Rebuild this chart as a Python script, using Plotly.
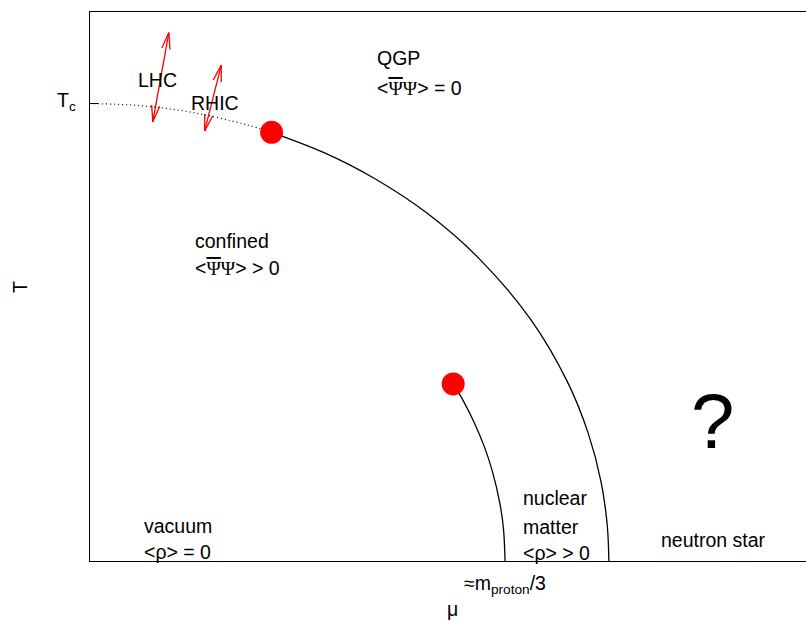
import math
import plotly.graph_objects as go

# ---- phase-boundary data (mu, T), T in units of Tc ----
crossover_mu = [0.00, 0.10, 0.20, 0.30, 0.35]
crossover_T = [1.000, 0.995, 0.980, 0.954, 0.937]

outer_mu = [0.350, 0.450, 0.550, 0.650, 0.750, 0.850, 0.920, 0.960, 0.985, 0.997, 1.000]
outer_T = [0.937, 0.893, 0.835, 0.760, 0.661, 0.527, 0.392, 0.280, 0.173, 0.077, 0.000]

inner_mu = [0.700, 0.720, 0.740, 0.760, 0.775, 0.790, 0.797, 0.800]
inner_T = [0.387, 0.349, 0.304, 0.250, 0.198, 0.126, 0.069, 0.000]

critical_mu = [0.35, 0.70]
critical_T = [0.937, 0.387]

# collider trajectories: (mu_start, T_start, mu_end, T_end)
colliders = {
    "LHC": (0.121, 0.960, 0.152, 1.155),
    "RHIC": (0.221, 0.940, 0.253, 1.084),
}

X_RANGE = [0.0, 1.38]
Y_RANGE = [0.0, 1.2]
W, H = 806, 622
M_L, M_R, M_T, M_B = 90, 0, 12, 61
PW, PH = W - M_L - M_R, H - M_T - M_B

FONT = "Liberation Sans, Arial, sans-serif"
BASE = 19.5


def to_px(mu, t):
    return (mu - X_RANGE[0]) / (X_RANGE[1] - X_RANGE[0]) * PW, (t - Y_RANGE[0]) / (Y_RANGE[1] - Y_RANGE[0]) * PH


def to_data(px, py):
    return X_RANGE[0] + px / PW * (X_RANGE[1] - X_RANGE[0]), Y_RANGE[0] + py / PH * (Y_RANGE[1] - Y_RANGE[0])


def arrow_head(tip, tail, length=17.0, angle_deg=14.0):
    tx, ty = to_px(*tip)
    bx, by = to_px(*tail)
    ang = math.atan2(by - ty, bx - tx)
    xs, ys = [], []
    for s in (1, -1):
        a = ang + s * math.radians(angle_deg)
        d = to_data(tx + length * math.cos(a), ty + length * math.sin(a))
        xs += [d[0], tip[0], None]
        ys += [d[1], tip[1], None]
    return xs, ys


fig = go.Figure()

fig.add_trace(go.Scatter(x=crossover_mu, y=crossover_T, mode="lines", line_shape="spline",
                         line=dict(color="black", width=1.2, dash="1px,3px"), hoverinfo="skip"))
fig.add_trace(go.Scatter(x=outer_mu, y=outer_T, mode="lines", line_shape="spline",
                         line=dict(color="black", width=1.3), hoverinfo="skip"))
fig.add_trace(go.Scatter(x=inner_mu, y=inner_T, mode="lines", line_shape="spline",
                         line=dict(color="black", width=1.3), hoverinfo="skip"))

for name, (m0, t0, m1, t1) in colliders.items():
    xs, ys = [m0, m1, None], [t0, t1, None]
    hx, hy = arrow_head((m1, t1), (m0, t0))
    xs += hx; ys += hy
    hx, hy = arrow_head((m0, t0), (m1, t1))
    xs += hx; ys += hy
    fig.add_trace(go.Scatter(x=xs, y=ys, mode="lines", line=dict(color="red", width=1.3),
                             hoverinfo="skip"))

fig.add_trace(go.Scatter(x=critical_mu, y=critical_T, mode="markers",
                         marker=dict(color="red", size=23, line=dict(width=0)), hoverinfo="skip"))

PSI = '<span style="font-family:Liberation Serif">Ψ</span>'
PSIBAR = '<span style="font-family:Liberation Serif;text-decoration:overline">Ψ</span>'


def paper_x(px):
    return (px - M_L) / PW


def paper_y(py):
    return (M_T + PH - py) / PH


labels = [
    # text, x px, y px (middle), xanchor, size, angle
    ("LHC", 157, 80, "center", BASE, 0),
    ("RHIC", 215, 103, "center", BASE, 0),
    ("QGP", 375, 58, "left", BASE, 0),
    ("&lt;" + PSIBAR + PSI + "&gt; = 0", 375, 88, "left", BASE, 0),
    ("confined", 193, 240.5, "left", BASE, 0),
    ("&lt;" + PSIBAR + PSI + "&gt; &gt; 0", 193, 268, "left", BASE, 0),
    ("vacuum", 142, 526, "left", BASE, 0),
    ("&lt;ρ&gt; = 0", 142, 552, "left", BASE, 0),
    ("nuclear", 521, 498, "left", BASE, 0),
    ("matter", 521, 526.5, "left", BASE, 0),
    ("&lt;ρ&gt; &gt; 0", 521, 553, "left", BASE, 0),
    ("neutron star", 713, 540, "center", BASE, 0),
    ("?", 712.5, 421, "center", BASE * 4, 0),
    # axis labels
    ("T<sub>c</sub>", 78, 102, "right", BASE, 0),
    ("≈m<sub>proton</sub>/3", 505, 584, "center", BASE, 0),
    ("μ", 452, 609, "center", BASE, 0),
    ("T", 20, 287, "center", BASE, -90),
]

annotations = []
for text, x, y, xa, size, ang in labels:
    annotations.append(dict(x=paper_x(x), y=paper_y(y), xref="paper", yref="paper", text=text,
                            showarrow=False, xanchor=xa, yanchor="middle", textangle=ang,
                            font=dict(size=size, color="black", family=FONT)))

fig.update_layout(
    width=W, height=H,
    margin=dict(l=M_L, r=M_R, t=M_T, b=M_B),
    paper_bgcolor="white", plot_bgcolor="white",
    showlegend=False,
    annotations=annotations,
    xaxis=dict(range=X_RANGE, showgrid=False, zeroline=False, showticklabels=False, ticks="",
               showline=True, mirror=True, linecolor="black", linewidth=1, fixedrange=True),
    yaxis=dict(range=Y_RANGE, showgrid=False, zeroline=False, showticklabels=False,
               tickvals=[1.0], ticks="inside", ticklen=8, tickcolor="black", tickwidth=1,
               showline=True, mirror=False, linecolor="black", linewidth=1, fixedrange=True),
)

fig.write_html("out.html", config={"displayModeBar": False})
